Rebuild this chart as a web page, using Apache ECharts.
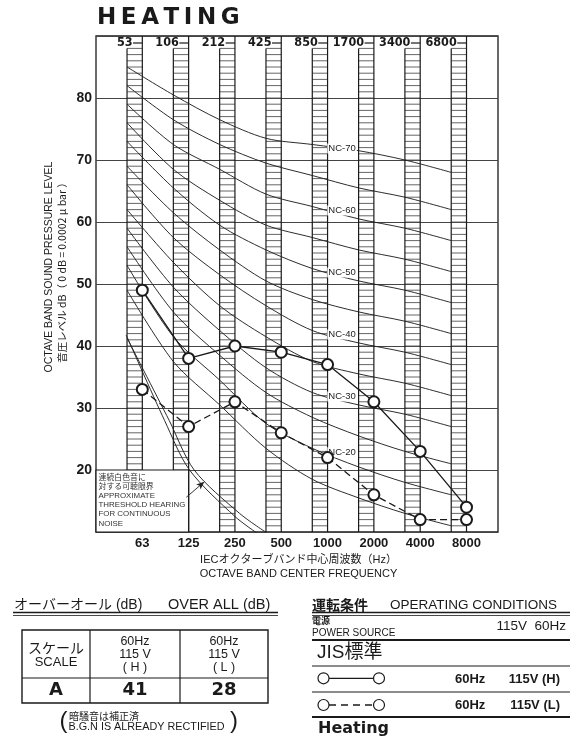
<!DOCTYPE html>
<html><head><meta charset="utf-8">
<script src="https://cdn.jsdelivr.net/npm/echarts@6.0.0/dist/echarts.min.js"></script>
<style>html,body{margin:0;padding:0;background:#fff;}#chart{width:572px;height:742px;}</style>
</head><body><div id="chart"></div>
<script>
// ---------------- data ----------------
const bands = ['63','125','250','500','1000','2000','4000','8000'];
const oldBands = ['53','106','212','425','850','1700','3400','6800'];
const yTicks = [20,30,40,50,60,70,80];
const heatHigh = [49,38,40,39,37,31,23,14];   // 60Hz 115V (H)
const heatLow  = [33,27,31,26,22,16,12,12];   // 60Hz 115V (L)
const ncNames = ['NC-15','NC-20','NC-25','NC-30','NC-35','NC-40','NC-45','NC-50','NC-55','NC-60','NC-65','NC-70'];
const nc15 = [49,37.5,30.5,23.5,18.5,15.5,13,11];
const nc20 = [53,41.5,34.5,27.5,23.5,20.5,18,16];
const nc25 = [56,45.5,38.5,32.5,28.5,25.5,23,21];
const nc30 = [59,49.5,42.5,36.5,32.5,30.5,29,27];
const nc35 = [62,53.5,46.5,41.5,37.5,35.5,34,32];
const nc40 = [66,57.5,51.5,46.5,42.5,40.5,39,37];
const nc45 = [69,61.5,55.5,50.5,47.5,45.5,44,42];
const nc50 = [73,65.5,59.5,55.5,52.5,50.5,49,47];
const nc55 = [76,68.5,63.5,59.5,57.5,55.5,54,52];
const nc60 = [79,72.5,68.5,64.5,62.5,60.5,59,57];
const nc65 = [82,76.5,72.5,69.5,67.5,65.5,64,62];
const nc70 = [85,80.5,76.5,73.5,72.5,71.5,70,68];
const ncCurves = [nc15,nc20,nc25,nc30,nc35,nc40,nc45,nc50,nc55,nc60,nc65,nc70];
const ncLabeled = ['NC-20','NC-30','NC-40','NC-50','NC-60','NC-70'];
// threshold-of-hearing curves: [band position, dB]
const thresholdA = [[-0.35,41.8],[0.48,28],[1.02,20],[2,12.5],[2.5,9.7]];
const thresholdB = [[-0.33,41.3],[0.58,28],[1.12,20],[2.1,13],[2.7,9.8]];
const arrowFrom = [0.95,15.6];
const arrowTo = [1.34,18.1];
const boxLines = ['連続白色音に','対する可聴限界','APPROXIMATE','THRESHOLD HEARING','FOR CONTINUOUS','NOISE'];
const overallScale = 'A';
const overallHigh = '41';
const overallLow = '28';

// ---------------- layout constants ----------------
const COLW = 0.33;
const LS = '"Liberation Sans", "Noto Sans CJK JP", sans-serif';
const JP = '"Noto Sans CJK JP", sans-serif';
const DV = '"DejaVu Sans", sans-serif';
const NARROW = '"Liberation Sans Narrow", "DejaVu Sans Condensed", "Liberation Sans", sans-serif';
const INK = '#1a1a1a';

const chart = echarts.init(document.getElementById('chart'), null, {renderer:'canvas'});

function columnsRender(params, api){
  const i = api.value(0);
  const xl = api.coord([i-COLW, 10])[0];
  const xr = api.coord([i, 10])[0];
  const yTop = api.coord([0, 90])[1];
  const yHatchTop = api.coord([0, 88])[1];
  const yBot = api.coord([0, 10])[1];
  const ch = [];
  for (let d = 10; d <= 88; d++){
    const y = api.coord([0, d])[1];
    ch.push({type:'line', shape:{x1:xl,y1:y,x2:xr,y2:y}, style:{stroke:'#555', lineWidth:0.9}});
  }
  ch.push({type:'line', shape:{x1:xl,y1:yHatchTop,x2:xl,y2:yBot}, style:{stroke:INK, lineWidth:1.2}});
  ch.push({type:'line', shape:{x1:xr,y1:yTop,x2:xr,y2:yBot}, style:{stroke:INK, lineWidth:1.2}});
  const ly = yTop + 7;
  ch.push({type:'text', x:xl+5.5, y:ly, style:{text:oldBands[i], font:'bold 12.5px '+NARROW, fill:INK,
    textAlign:'right', align:'right', textVerticalAlign:'middle', verticalAlign:'middle'}});
  ch.push({type:'line', shape:{x1:xl+6,y1:ly,x2:xr,y2:ly}, style:{stroke:INK, lineWidth:1.2}});
  return {type:'group', children:ch};
}

function boxRender(params, api){
  const p1 = api.coord([-1, 20]);
  const p2 = api.coord([1, 10]);
  const ch = [{type:'rect', shape:{x:p1[0], y:p1[1], width:p2[0]-p1[0], height:p2[1]-p1[1]},
    style:{fill:'#fff', stroke:INK, lineWidth:1.2}}];
  boxLines.forEach((t,k)=>{
    ch.push({type:'text', x:p1[0]+2.5, y:p1[1]+7.5+k*9.2, style:{text:t, font:'7.9px '+LS, fill:'#333',
      textAlign:'left', align:'left', textVerticalAlign:'middle', verticalAlign:'middle'}});
  });
  return {type:'group', children:ch};
}

const series = [];
series.push({type:'custom', coordinateSystem:'cartesian2d', renderItem:columnsRender,
  data: bands.map((b,i)=>[i]), z:1, silent:true, clip:false});

ncCurves.forEach((c,k)=>{
  const name = ncNames[k];
  const labeled = ncLabeled.includes(name);
  series.push({type:'line', name, smooth:0.3, z:2, silent:true,
    symbol:'circle', symbolSize:0.1, showSymbol:true,
    lineStyle:{color:'#222', width:0.95}, itemStyle:{color:'#222'},
    data: c.map((v,i)=>{
      const item = {value:[i-COLW, v]};
      if (labeled && i===4){
        item.label = {show:true, formatter:name, position:'right', distance:15, offset:[0,4],
          fontSize:9.5, fontFamily:'Liberation Sans', color:'#222', backgroundColor:'#fff', padding:[0,1]};
      }
      return item;
    })});
});

series.push({type:'line', name:'thrA', smooth:0.3, z:2, silent:true, showSymbol:false,
  lineStyle:{color:'#222', width:0.95}, data: thresholdA,
  markLine:{silent:true, symbol:['none','arrow'], symbolSize:[5,8], label:{show:false},
    lineStyle:{color:'#222', width:0.9, type:'solid'}, animation:false,
    data:[[{coord:arrowFrom},{coord:arrowTo}]]}});
series.push({type:'line', name:'thrB', smooth:0.3, z:2, silent:true, showSymbol:false,
  lineStyle:{color:'#222', width:0.95}, data: thresholdB});

series.push({type:'custom', coordinateSystem:'cartesian2d', renderItem:boxRender, data:[[0]], z:3, silent:true, clip:false});

series.push({type:'line', name:'60Hz 115V (H)', z:5, symbol:'emptyCircle', symbolSize:11,
  lineStyle:{color:INK, width:1.3}, itemStyle:{color:INK, borderWidth:1.1},
  data: heatHigh.map((v,i)=>[i,v])});
series.push({type:'line', name:'60Hz 115V (L)', z:5, symbol:'emptyCircle', symbolSize:11,
  lineStyle:{color:INK, width:1.3, type:[7,4]}, itemStyle:{color:INK, borderWidth:1.1},
  data: heatLow.map((v,i)=>[i,v])});

function T(x,y,text,font,align,extra){
  align = align || 'left';
  return Object.assign({type:'text', x, y, silent:true, style:{text, font, fill:INK,
    textAlign:align, align:align, textVerticalAlign:'middle', verticalAlign:'middle'}}, extra||{});
}
function L(x1,y1,x2,y2,w,dash){
  return {type:'line', silent:true, shape:{x1,y1,x2,y2}, style:{stroke:INK, lineWidth:w||1, lineDash:dash||null}};
}
function C(cx,cy){
  return {type:'circle', silent:true, shape:{cx,cy,r:5.5}, style:{fill:'#fff', stroke:INK, lineWidth:1.2}};
}

const graphic = [
  T(97, 18, 'H\u2009E\u2009A\u2009T\u2009I\u2009N\u2009G', 'bold 23px '+DV),
  T(49, 267, 'OCTAVE BAND SOUND PRESSURE LEVEL', '10.5px '+LS, 'center', {rotation:Math.PI/2}),
  T(62, 270, '音圧レベル dB（ 0 dB = 0.0002 μ bar ）', '10.5px '+JP, 'center', {rotation:Math.PI/2}),
  T(298.5, 559.5, 'IECオクターブバンド中心周波数（Hz）', '11px '+LS, 'center'),
  T(298.5, 574, 'OCTAVE BAND CENTER FREQUENCY', '11px '+LS, 'center'),
  // overall table
  T(14, 605, 'オーバーオール (dB)', '14px '+LS),
  T(168, 605, 'OVER ALL (dB)', '14.5px '+LS),
  L(13,612.5,278,612.5,1.6), L(13,615.5,278,615.5,0.8),
  {type:'rect', silent:true, shape:{x:22,y:630,width:246,height:73}, style:{fill:'none', stroke:INK, lineWidth:1.4}},
  L(90,630,90,703,1.2), L(180,630,180,703,1.2), L(22,678,268,678,1.2),
  T(56, 648, 'スケール', '14px '+JP, 'center'),
  T(56, 662, 'SCALE', '13px '+LS, 'center'),
  T(135, 642, '60Hz', '12.5px '+LS, 'center'),
  T(135, 655, '115 V', '12.5px '+LS, 'center'),
  T(135, 668, '( H )', '12.5px '+LS, 'center'),
  T(224, 642, '60Hz', '12.5px '+LS, 'center'),
  T(224, 655, '115 V', '12.5px '+LS, 'center'),
  T(224, 668, '( L )', '12.5px '+LS, 'center'),
  T(56, 690.5, overallScale, 'bold 18px '+DV, 'center'),
  T(135, 690.5, overallHigh, 'bold 18px '+DV, 'center'),
  T(224, 690.5, overallLow, 'bold 18px '+DV, 'center'),
  T(63.5, 721, '(', '24px '+LS, 'center'),
  T(234, 721, ')', '24px '+LS, 'center'),
  T(69, 716.5, '暗騒音は補正済', '10px '+JP),
  T(68.5, 727.5, 'B.G.N IS ALREADY RECTIFIED', '10.8px '+LS),
  // operating conditions
  T(312, 605, '運転条件', 'bold 14px '+JP),
  T(390, 605, 'OPERATING CONDITIONS', '13.5px '+LS),
  L(312,612.5,570,612.5,1.6), L(312,615.5,570,615.5,0.8),
  T(312, 620.5, '電源', 'bold 9px '+JP),
  T(312, 633, 'POWER SOURCE', '10px '+LS),
  T(566, 626, '115V  60Hz', '13.5px '+LS, 'right'),
  L(312,640,570,640,2),
  T(317, 653, 'JIS標準', '19px '+LS),
  L(312,666,570,666,1),
  L(329,678.3,373.5,678.3,1.3), C(323.5,678.3), C(379,678.3),
  T(455, 679, '60Hz', 'bold 13px '+LS),
  T(560, 679, '115V (H)', 'bold 13px '+LS, 'right'),
  L(312,692,570,692,1),
  L(329,705,373.5,705,1.3,[7,5]), C(323.5,705), C(379,705),
  T(455, 705.5, '60Hz', 'bold 13px '+LS),
  T(560, 705.5, '115V (L)', 'bold 13px '+LS, 'right'),
  L(312,717,570,717,2),
  T(318, 729, 'Heating', 'bold 16px '+DV)
];

chart.setOption({
  animation:false,
  backgroundColor:'#fff',
  grid:{left:96, right:74, top:36, bottom:210, show:true, borderColor:INK, borderWidth:1.3, backgroundColor:'transparent'},
  xAxis:{type:'value', min:-1, max:7.68, interval:1,
    axisLine:{show:false}, axisTick:{show:false}, splitLine:{show:false},
    axisLabel:{margin:5, color:INK, fontWeight:'bold', fontSize:13, fontFamily:'Liberation Sans',
      showMinLabel:true, showMaxLabel:false,
      formatter:(v)=> (v>=0 && v<bands.length) ? bands[Math.round(v)] : ''}},
  yAxis:{type:'value', min:10, max:90, interval:10,
    axisLine:{show:false}, axisTick:{show:false},
    splitLine:{show:true, lineStyle:{color:'#444', width:1}},
    axisLabel:{margin:4, color:INK, fontWeight:'bold', fontSize:14, fontFamily:'Liberation Sans',
      formatter:(v)=> yTicks.includes(v) ? String(v) : ''}},
  series,
  graphic
});
</script></body></html>
